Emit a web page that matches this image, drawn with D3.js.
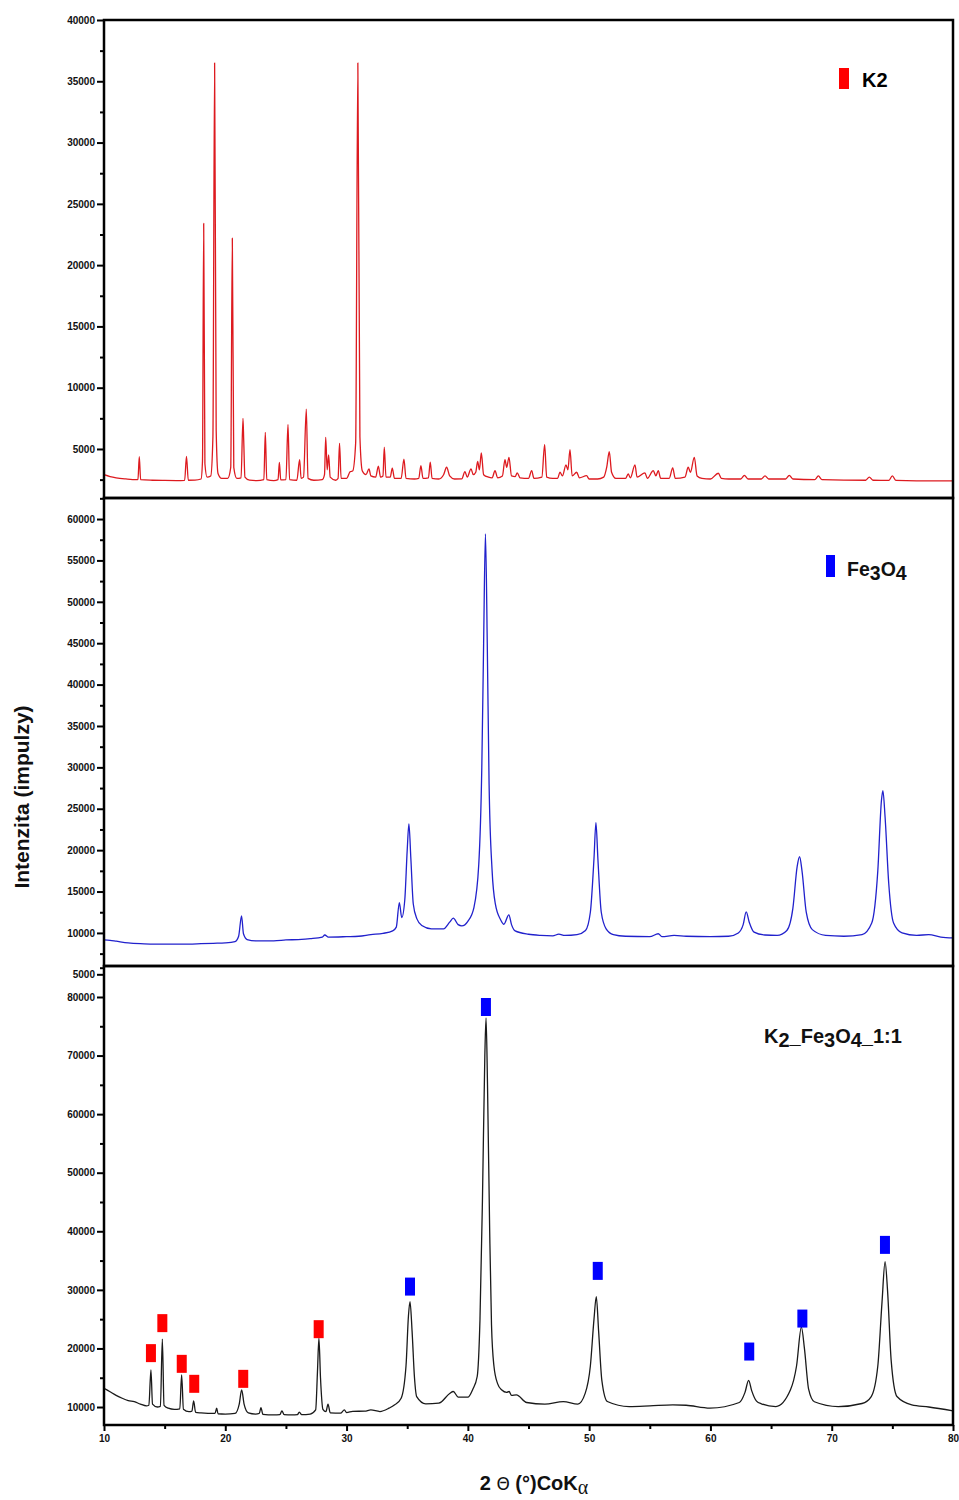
<!DOCTYPE html>
<html><head><meta charset="utf-8">
<script src="https://cdn.jsdelivr.net/npm/d3@7/dist/d3.min.js"></script>
<style>body{margin:0;background:#fff}svg{display:block}</style>
</head><body>
<svg id="c" width="959" height="1500"></svg>
<script>
// ---- DATA (2θ in degrees, intensity in counts) ----
const k2Points = [
[10.0,2900],[10.5,2750],[11.0,2650],[11.8,2560],[12.7,2500],[12.8,2520],[12.91,4370],[13.02,2500],
[14.0,2450],[15.0,2430],[16.0,2420],[16.65,2440],[16.8,4400],[16.95,2450],[17.5,2460],[18.0,2550],
[18.12,4000],[18.22,23400],[18.32,3800],[18.5,2700],[18.8,2800],[18.98,6000],[19.12,36500],[19.25,6500],
[19.4,3000],[19.7,2600],[20.2,2600],[20.45,3500],[20.58,22200],[20.7,3500],[20.95,2600],[21.3,2650],
[21.46,7500],[21.52,5700],[21.62,2700],[22.0,2450],[22.6,2420],[23.18,2500],[23.3,6360],[23.42,2500],
[24.0,2420],[24.35,2500],[24.46,3910],[24.57,2480],[25.0,2500],[25.17,7000],[25.3,2500],[25.9,2450],
[26.13,4130],[26.25,2600],[26.45,2700],[26.68,8250],[26.82,2600],[27.3,2450],[28.0,2500],[28.18,2900],
[28.28,5950],[28.4,3300],[28.52,4510],[28.65,2700],[29.1,2450],[29.3,2600],[29.42,5460],[29.55,2600],
[30.0,2600],[30.3,3150],[30.5,3200],[30.75,5500],[30.93,36500],[31.1,6000],[31.3,3200],[31.6,2900],
[31.85,3370],[32.0,2800],[32.4,2700],[32.62,3600],[32.8,2700],[33.0,2800],[33.11,5140],[33.25,2700],
[33.6,2700],[33.77,3430],[33.95,2600],[34.5,2600],[34.73,4180],[34.9,2600],[35.6,2550],[35.95,2600],
[36.13,3640],[36.3,2600],[36.75,2650],[36.9,3920],[37.05,2600],[37.6,2550],[38.0,2900],[38.25,3510],
[38.5,2800],[38.9,2550],[39.5,2560],[39.76,3150],[39.95,2700],[40.26,3370],[40.45,2900],[40.65,3100],
[40.81,3990],[40.95,3300],[41.11,4670],[41.3,2900],[41.7,2700],[42.0,2650],[42.24,3230],[42.45,2650],
[42.85,2800],[43.06,4130],[43.2,3500],[43.39,4320],[43.6,2800],[43.9,2750],[44.07,3045],[44.3,2650],
[45.0,2600],[45.26,3230],[45.45,2600],[46.1,2700],[46.33,5350],[46.5,2700],[47.0,2600],[47.4,2600],
[47.59,3100],[47.8,2800],[48.09,3700],[48.25,3300],[48.42,4940],[48.6,2800],[48.97,3100],[49.2,2650],
[49.79,2820],[50.0,2550],[50.7,2550],[51.2,2700],[51.45,3510],[51.66,4780],[51.85,3100],[52.2,2600],
[53.0,2600],[53.22,2960],[53.4,2650],[53.78,3700],[53.95,2700],[54.6,3045],[54.8,2600],[55.29,3230],
[55.5,2800],[55.7,3230],[55.9,2600],[56.6,2600],[56.89,3450],[57.1,2600],[57.9,2700],[58.17,3510],
[58.35,3100],[58.67,4320],[58.9,2800],[59.3,2600],[60.0,2550],[60.65,3020],[60.9,2600],[61.5,2550],
[62.5,2550],[62.8,2850],[63.1,2550],[64.2,2550],[64.5,2800],[64.8,2550],[66.2,2550],[66.5,2850],
[66.8,2550],[68.6,2500],[68.9,2800],[69.2,2500],[72.8,2450],[73.1,2700],[73.4,2450],[74.7,2430],
[75.0,2800],[75.3,2430],[77.0,2400],[80.0,2400]
];
const fe3o4Points = [
[10.0,9150],[10.5,9100],[11.0,9000],[12.0,8800],[13.0,8700],[14.0,8650],[15.0,8650],[16.0,8650],
[17.0,8650],[18.0,8700],[19.0,8750],[20.0,8800],[20.8,8950],[21.1,9600],[21.34,12060],[21.5,9900],
[21.8,9200],[22.5,9050],[24.0,9050],[25.0,9150],[26.0,9200],[27.0,9300],[28.0,9500],[28.2,9750],
[28.5,9500],[30.0,9550],[31.0,9600],[32.0,9800],[33.0,9950],[33.8,10250],[34.1,10700],[34.35,13670],
[34.55,11850],[34.8,14000],[35.0,20000],[35.14,23160],[35.3,19000],[35.5,13500],[35.8,11700],[36.2,10900],
[37.0,10500],[38.0,10500],[38.5,11300],[38.8,11780],[39.2,11000],[39.5,10850],[40.0,11400],[40.5,13060],
[40.9,18300],[41.15,30000],[41.3,45000],[41.45,58200],[41.6,45000],[41.75,28000],[42.0,17500],[42.27,13470],
[42.7,11600],[42.97,11050],[43.38,12180],[43.6,11000],[43.9,10240],[45.0,9840],[46.0,9700],[47.0,9650],
[47.5,9850],[48.0,9700],[49.0,9800],[49.7,10300],[50.1,12500],[50.4,19000],[50.56,23320],[50.72,19000],
[51.0,12500],[51.4,10500],[52.0,9800],[53.0,9600],[55.0,9550],[55.7,9900],[56.0,9550],[57.0,9700],
[58.0,9600],[60.0,9550],[61.5,9600],[62.3,10000],[62.7,11000],[62.95,12540],[63.2,11300],[63.6,10100],
[64.5,9750],[65.5,9700],[66.3,10300],[66.8,13000],[67.15,18000],[67.35,19200],[67.55,17500],[67.9,12500],
[68.4,10400],[69.5,9700],[71.0,9600],[72.5,9800],[73.3,11200],[73.8,17500],[74.1,26000],[74.22,27190],
[74.4,24000],[74.7,16000],[75.1,11200],[75.8,10000],[77.0,9700],[78.0,9800],[79.0,9500],[80.0,9400]
];
const mixPoints = [
[10.0,13200],[10.5,12600],[11.0,12000],[11.5,11500],[12.0,11100],[12.5,10900],[13.0,10500],[13.5,10200],
[13.7,10300],[13.87,16350],[14.0,10500],[14.4,10000],[14.65,10100],[14.81,21590],[14.95,10300],[15.3,9800],
[15.8,9600],[16.25,9700],[16.4,15500],[16.55,9600],[17.0,9200],[17.25,9300],[17.39,11060],[17.55,9100],
[18.0,9000],[19.15,8900],[19.29,9810],[19.4,8850],[20.0,8800],[20.8,8900],[21.15,10500],[21.35,12930],
[21.55,10500],[21.9,9000],[22.5,8800],[22.8,8900],[22.94,9910],[23.1,8750],[24.0,8650],[24.5,8700],
[24.67,9350],[24.85,8700],[25.5,8650],[25.95,8700],[26.1,9130],[26.3,8700],[27.0,8800],[27.45,9500],
[27.6,16000],[27.72,21760],[27.85,15000],[28.05,9600],[28.3,9200],[28.47,10500],[28.65,9000],[29.5,8950],
[29.82,9500],[30.0,9050],[30.5,9250],[31.5,9300],[32.0,9500],[32.75,9230],[33.5,9800],[33.97,10380],
[34.5,11500],[34.9,17000],[35.1,25500],[35.23,28000],[35.4,23000],[35.6,15000],[35.78,11790],[36.53,10550],
[37.6,10650],[38.5,12300],[38.8,12650],[39.2,11700],[40.0,11680],[40.4,13000],[40.77,15210],[41.0,25000],
[41.2,45000],[41.4,70000],[41.5,76420],[41.62,65000],[41.8,40000],[41.95,24000],[42.15,17000],[42.45,14000],
[42.8,12900],[43.2,12500],[43.4,12650],[43.6,12000],[44.0,12080],[44.85,10770],[46.35,10500],[47.87,10920],
[49.07,10500],[49.68,12370],[50.1,17000],[50.4,25000],[50.59,28860],[50.78,23000],[51.05,14500],[51.5,10940],
[53.3,10080],[55.0,10200],[56.9,10380],[58.0,10300],[59.96,9810],[62.38,10770],[62.85,12500],[63.15,14540],
[63.4,12800],[63.8,11000],[64.2,10550],[65.4,10080],[66.6,12940],[67.1,17000],[67.5,23640],[67.75,20000],
[68.1,13000],[68.57,10900],[70.54,10080],[72.5,10600],[73.26,11790],[73.8,17000],[74.15,28000],[74.4,34830],
[74.6,30000],[74.9,18000],[75.38,11790],[76.6,10370],[78.0,10000],[80.0,9340]
];
// phase markers in mixture panel: [2θ, intensity]
const k2Markers = [[13.87,19200],[14.81,24320],[16.41,17370],[17.44,13960],[21.48,14810],[27.7,23290]];
const fe3o4Markers = [[35.23,30560],[41.49,78290],[50.71,33240],[63.2,19470],[67.58,25100],[74.39,37680]];

const xTickValues = [10,20,30,40,50,60,70,80];
const xMinorValues = [15,25,35,45,55,65,75];
const k2Ticks = [5000,10000,15000,20000,25000,30000,35000,40000];
const k2Minor = [2500,7500,12500,17500,22500,27500,32500,37500];
const fe3o4Ticks = [5000,10000,15000,20000,25000,30000,35000,40000,45000,50000,55000,60000];
const fe3o4Minor = [7500,12500,17500,22500,27500,32500,37500,42500,47500,52500,57500,62500];
const mixTicks = [10000,20000,30000,40000,50000,60000,70000,80000];
const mixMinor = [15000,25000,35000,45000,55000,65000,75000,85000];

const yTitle = "Intenzita (impulzy)";

// ---- DRAWING ----
const svg = d3.select('#c');
const FONT = "'Liberation Sans', Arial, Helvetica, sans-serif";
const L = 104, R = 953;
const x = d3.scaleLinear().domain([10, 80]).range([L, R]);

const panels = [
  {pts: k2Points, color: '#dd1a1f', dom: [1000, 40000], top: 20, bottom: 498, ticks: k2Ticks, minor: k2Minor},
  {pts: fe3o4Points, color: '#2121cc', dom: [6005, 62540], top: 498, bottom: 966, ticks: fe3o4Ticks, minor: fe3o4Minor},
  {pts: mixPoints, color: '#1a1a1a', dom: [6930, 85290], top: 966, bottom: 1425, ticks: mixTicks, minor: mixMinor}
];

panels.forEach((p, i) => {
  const y = d3.scaleLinear().domain(p.dom).range([p.bottom, p.top]);
  p.y = y;
  const g = svg.append('g');
  const line = d3.line().x(d => x(d[0])).y(d => y(d[1])).curve(d3.curveMonotoneX);
  g.append('path').datum(p.pts).attr('d', line)
    .attr('fill', 'none').attr('stroke', p.color).attr('stroke-width', 1.3).attr('stroke-linejoin', 'round');

  const ax = g.append('g').attr('transform', `translate(${L},0)`)
    .call(d3.axisLeft(y).tickValues(p.ticks).tickSize(7).tickPadding(2).tickFormat(d3.format('d')));
  ax.select('.domain').remove();
  ax.selectAll('line').attr('stroke', '#000').attr('stroke-width', 2);
  ax.selectAll('text').attr('font-family', FONT).attr('font-weight', 'bold').attr('font-size', 10).attr('fill', '#111');
  const mn = g.append('g').attr('transform', `translate(${L},0)`)
    .call(d3.axisLeft(y).tickValues(p.minor.filter(v => v > p.dom[0] && v < p.dom[1])).tickSize(4).tickFormat(''));
  mn.select('.domain').remove();
  mn.selectAll('line').attr('stroke', '#000').attr('stroke-width', 2);
});

// frames
panels.forEach(p => {
  svg.append('rect').attr('x', L).attr('y', p.top).attr('width', R - L).attr('height', p.bottom - p.top)
    .attr('fill', 'none').attr('stroke', '#000').attr('stroke-width', 2.5);
});

// x axis
const xa = svg.append('g').attr('transform', `translate(0,${1425})`)
  .call(d3.axisBottom(x).tickValues(xTickValues).tickSize(6).tickPadding(4).tickFormat(d3.format('d')));
xa.select('.domain').remove();
xa.selectAll('line').attr('stroke', '#000').attr('stroke-width', 2);
xa.selectAll('text').attr('font-family', FONT).attr('font-weight', 'bold').attr('font-size', 10).attr('fill', '#111');
const xm = svg.append('g').attr('transform', `translate(0,${1425})`)
  .call(d3.axisBottom(x).tickValues(xMinorValues).tickSize(4).tickFormat(''));
xm.select('.domain').remove();
xm.selectAll('line').attr('stroke', '#000').attr('stroke-width', 2);

// markers in mixture panel
const my = panels[2].y;
svg.append('g').selectAll('rect').data(k2Markers).join('rect')
  .attr('x', d => x(d[0]) - 5).attr('y', d => my(d[1]) - 9).attr('width', 10).attr('height', 18).attr('fill', '#ff0000');
svg.append('g').selectAll('rect').data(fe3o4Markers).join('rect')
  .attr('x', d => x(d[0]) - 5).attr('y', d => my(d[1]) - 9).attr('width', 10).attr('height', 18).attr('fill', '#0000ff');

// legends
svg.append('rect').attr('x', 839).attr('y', 68).attr('width', 10).attr('height', 21).attr('fill', '#ff0000');
svg.append('text').attr('x', 862).attr('y', 87).attr('font-family', FONT).attr('font-weight', 'bold')
  .attr('font-size', 20).attr('fill', '#000').text('K2');

svg.append('rect').attr('x', 826).attr('y', 555).attr('width', 9).attr('height', 22).attr('fill', '#0000ff');
const fe = svg.append('text').attr('x', 847).attr('y', 576).attr('font-family', FONT).attr('font-weight', 'bold')
  .attr('font-size', 19.5).attr('fill', '#111');
fe.append('tspan').text('Fe');
fe.append('tspan').attr('dy', 4).text('3');
fe.append('tspan').attr('dy', -4).text('O');
fe.append('tspan').attr('dy', 4).text('4');

const mx = svg.append('text').attr('x', 764).attr('y', 1043).attr('font-family', FONT).attr('font-weight', 'bold')
  .attr('font-size', 20).attr('fill', '#111');
mx.append('tspan').text('K');
mx.append('tspan').attr('dy', 4).text('2');
mx.append('tspan').attr('dy', -4).text('_Fe');
mx.append('tspan').attr('dy', 4).text('3');
mx.append('tspan').attr('dy', -4).text('O');
mx.append('tspan').attr('dy', 4).text('4');
mx.append('tspan').attr('dy', -4).text('_1:1');

// axis titles
svg.append('text').attr('transform', 'translate(29,797) rotate(-90)').attr('text-anchor', 'middle')
  .attr('font-family', FONT).attr('font-weight', 'bold').attr('font-size', 21).attr('fill', '#111').text(yTitle);

const xt = svg.append('text').attr('x', 534).attr('y', 1490).attr('text-anchor', 'middle')
  .attr('font-family', FONT).attr('font-weight', 'bold').attr('font-size', 20).attr('fill', '#111');
xt.append('tspan').text('2 ');
xt.append('tspan').attr('font-family', "'DejaVu Sans', sans-serif").attr('font-weight', 'normal').attr('font-size', 17).text('Θ');
xt.append('tspan').text(' (°)CoK');
xt.append('tspan').attr('dy', 4).attr('font-family', "'Liberation Serif', serif").attr('font-weight', 'normal').attr('font-size', 20).text('α');
</script>
</body></html>
